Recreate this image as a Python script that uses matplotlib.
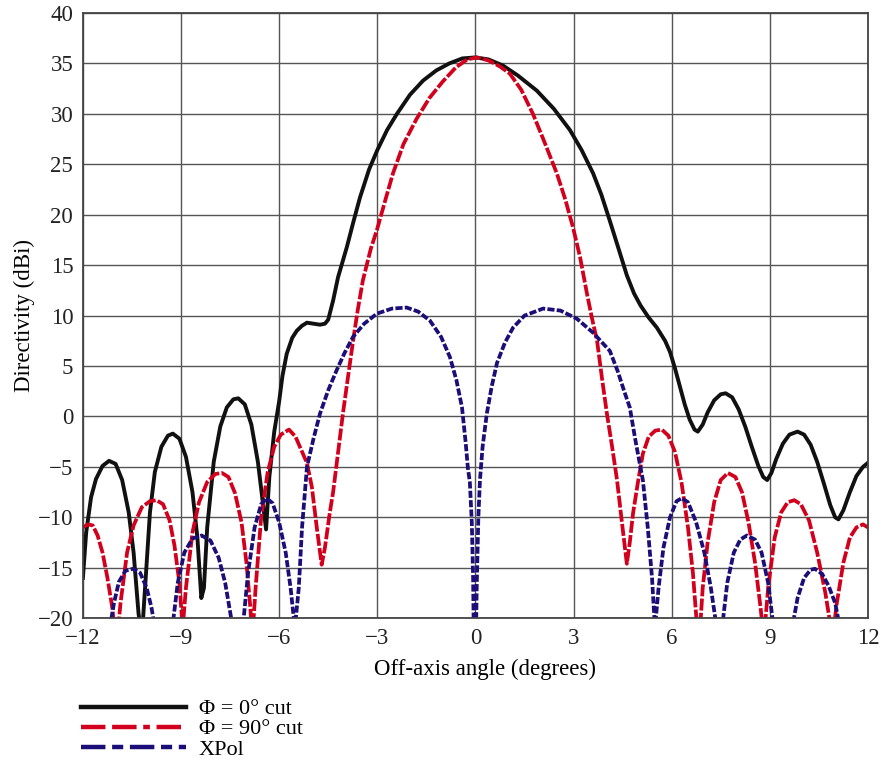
import matplotlib
matplotlib.use("Agg")

import numpy as np
import matplotlib.pyplot as plt

# (angle in degrees, directivity in dBi)
phi0_x = [-12.0, -11.9, -11.75, -11.6, -11.4, -11.2, -11.0, -10.8, -10.6, -10.45,
          -10.3, -10.2, -10.1, -9.95, -9.8, -9.6, -9.4, -9.25, -9.05, -8.85,
          -8.65, -8.5, -8.38, -8.3, -8.2, -8.0, -7.8, -7.6, -7.4, -7.25,
          -7.05, -6.85, -6.65, -6.5, -6.4, -6.3, -6.15, -6.0, -5.9, -5.77,
          -5.6, -5.46, -5.3, -5.15, -4.95, -4.75, -4.6, -4.5, -4.35, -4.2,
          -3.93, -3.73, -3.53, -3.25, -3.0, -2.7, -2.4, -2.0, -1.6, -1.2,
          -0.8, -0.4, 0.0, 0.4, 0.84, 1.3, 1.88, 2.4, 2.89, 3.25,
          3.6, 3.85, 4.11, 4.4, 4.63, 4.85, 5.05, 5.3, 5.55, 5.8,
          5.95, 6.1, 6.25, 6.4, 6.55, 6.7, 6.8, 6.95, 7.1, 7.3,
          7.5, 7.65, 7.85, 8.05, 8.25, 8.45, 8.65, 8.8, 8.92, 9.05,
          9.2, 9.4, 9.6, 9.85, 10.05, 10.25, 10.45, 10.65, 10.85, 11.0,
          11.1, 11.25, 11.45, 11.65, 11.85, 12.0]
phi0_y = [-16.0, -11.5, -8.0, -6.2, -4.9, -4.4, -4.7, -6.3, -9.5, -13.5,
          -19.5, -22.0, -17.0, -9.5, -5.5, -3.0, -1.9, -1.7, -2.2, -4.0,
          -7.5, -12.0, -18.0, -17.0, -11.0, -4.5, -1.0, 0.9, 1.7, 1.8,
          1.2, -0.8, -4.5, -8.5, -11.2, -6.0, -1.5, 1.5, 4.0, 6.2,
          7.8, 8.5, 9.0, 9.3, 9.2, 9.1, 9.2, 9.6, 11.5, 13.8,
          16.8, 19.3, 21.7, 24.5, 26.4, 28.4, 30.0, 31.9, 33.3, 34.3,
          35.0, 35.5, 35.6, 35.4, 34.8, 33.8, 32.3, 30.5, 28.4, 26.4,
          24.1, 22.0, 19.4, 16.4, 14.0, 12.2, 11.0, 9.8, 8.8, 7.5,
          6.4, 4.8, 3.0, 1.2, -0.3, -1.3, -1.5, -0.8, 0.4, 1.6,
          2.2, 2.3, 1.9, 0.7, -1.0, -3.0, -4.9, -6.0, -6.3, -5.6,
          -4.2, -2.7, -1.8, -1.5, -1.8, -2.8, -4.5, -6.6, -8.8, -10.0,
          -10.2, -9.3, -7.5, -5.9, -5.0, -4.6]

phi90_x = [-12.0, -11.85, -11.7, -11.55, -11.4, -11.25, -11.1, -10.98, -10.85, -10.65,
           -10.45, -10.2, -9.95, -9.75, -9.55, -9.35, -9.2, -9.05, -8.95, -8.85,
           -8.65, -8.45, -8.2, -7.95, -7.75, -7.55, -7.35, -7.15, -7.0, -6.88,
           -6.82, -6.72, -6.55, -6.35, -6.15, -5.95, -5.7, -5.5, -5.3, -5.15,
           -5.0, -4.85, -4.7, -4.6, -4.45, -4.35, -4.2, -4.05, -3.9, -3.74,
           -3.6, -3.44, -3.2, -3.01, -2.75, -2.52, -2.2, -1.8, -1.4, -1.0,
           -0.6, -0.25, 0.05, 0.4, 0.75, 1.05, 1.4, 1.76, 2.1, 2.49,
           2.75, 2.98, 3.2, 3.41, 3.56, 3.72, 3.87, 4.02, 4.18, 4.33,
           4.48, 4.63, 4.72, 4.82, 4.97, 5.12, 5.3, 5.5, 5.7, 5.9,
           6.1, 6.3, 6.5, 6.65, 6.78, 6.85, 6.95, 7.1, 7.3, 7.5,
           7.72, 7.95, 8.15, 8.35, 8.55, 8.72, 8.82, 8.95, 9.15, 9.35,
           9.55, 9.75, 9.95, 10.2, 10.45, 10.7, 10.92, 11.05, 11.25, 11.45,
           11.65, 11.85, 12.0]
phi90_y = [-11.0, -10.7, -10.8, -11.8, -13.5, -16.0, -19.0, -23.0, -18.5, -13.5,
           -10.8, -9.0, -8.4, -8.3, -8.7, -10.3, -12.8, -16.5, -21.0, -17.0,
           -11.5, -8.5, -6.5, -5.7, -5.6, -6.0, -7.6, -10.5, -14.5, -19.0,
           -22.0, -17.0, -10.0, -5.5, -3.0, -1.8, -1.3, -2.0, -3.5, -4.6,
           -7.0, -11.0, -14.7, -13.0, -9.5, -7.5, -3.6, 0.3, 3.8, 7.5,
           10.5, 13.5, 16.6, 18.5, 21.5, 24.1, 27.0, 29.5, 31.6, 33.2,
           34.6, 35.4, 35.6, 35.3, 34.7, 34.0, 32.4, 30.0, 27.3, 24.1,
           21.5, 18.8, 15.8, 12.2, 9.8, 7.5, 3.8, 0.3, -3.0, -6.3,
           -10.5, -14.6, -12.5, -9.6, -6.5, -3.7, -2.0, -1.4, -1.3, -1.9,
           -3.5, -6.5, -11.0, -15.5, -21.0, -22.0, -17.0, -12.5, -8.5, -6.3,
           -5.6, -6.0, -7.5, -10.5, -14.5, -19.0, -22.0, -17.0, -12.0, -9.5,
           -8.5, -8.3, -8.7, -10.3, -13.5, -17.5, -22.0, -18.5, -14.5, -12.0,
           -11.0, -10.7, -11.0]

xpol_x = [-11.18, -11.05, -10.9, -10.7, -10.47, -10.25, -10.05, -9.9, -9.8, -9.52,
          -9.25, -9.1, -8.9, -8.65, -8.37, -8.1, -7.85, -7.65, -7.44, -7.27,
          -7.1, -6.95, -6.75, -6.55, -6.38, -6.2, -6.0, -5.8, -5.65, -5.52,
          -5.4, -5.3, -5.15, -4.95, -4.75, -4.5, -4.24, -4.0, -3.74, -3.4,
          -3.01, -2.55, -2.1, -1.75, -1.39, -1.05, -0.78, -0.58, -0.41, -0.3,
          -0.23, -0.17, -0.11, -0.07, -0.02, 0.04, 0.09, 0.14, 0.22, 0.35,
          0.5, 0.66, 0.9, 1.15, 1.5, 2.07, 2.6, 3.1, 3.6, 4.11,
          4.35, 4.55, 4.72, 4.9, 5.12, 5.27, 5.4, 5.49, 5.6, 5.75,
          5.95, 6.15, 6.31, 6.5, 6.75, 7.0, 7.2, 7.38, 7.46, 7.54,
          7.7, 7.9, 8.1, 8.3, 8.55, 8.75, 8.95, 9.1, 9.4, 9.71,
          9.85, 10.05, 10.25, 10.38, 10.6, 10.8, 11.0, 11.15]
xpol_y = [-21.0, -18.5, -16.4, -15.3, -15.1, -15.5, -17.0, -19.0, -21.0, -26.0,
          -20.5, -16.5, -13.5, -12.1, -11.8, -12.3, -14.0, -16.5, -20.5, -25.0,
          -20.5, -15.5, -11.0, -8.7, -8.1, -8.6, -10.5, -13.5, -17.0, -21.0,
          -17.0, -11.0, -5.0, -2.2, 0.3, 2.6, 4.6, 6.3, 7.9, 9.2,
          10.2, 10.7, 10.8, 10.4, 9.5, 7.9, 5.9, 3.6, 0.9, -2.5,
          -5.1, -6.5, -10.5, -16.0, -30.0, -17.0, -10.0, -6.3, -3.0, 0.3,
          3.0, 5.3, 7.3, 8.8, 10.0, 10.7, 10.5, 9.7, 8.3, 6.5,
          4.5, 2.5, 0.9, -2.5, -6.3, -11.0, -16.0, -21.0, -17.0, -13.0,
          -10.0, -8.4, -8.1, -8.5, -10.5, -13.5, -17.0, -21.0, -25.0, -21.0,
          -16.5, -13.5, -12.2, -11.8, -12.2, -13.5, -16.5, -20.5, -26.0, -20.5,
          -18.0, -16.0, -15.2, -15.1, -15.6, -16.8, -18.5, -21.0]

x_ticks = [-12, -9, -6, -3, 0, 3, 6, 9, 12]
y_ticks = [-20, -15, -10, -5, 0, 5, 10, 15, 20, 25, 30, 35, 40]
series_labels = ["\u03a6 = 0\u00b0 cut", "\u03a6 = 90\u00b0 cut", "XPol"]

plt.rcParams["font.family"] = ["Liberation Serif", "DejaVu Serif"]

fig = plt.figure(figsize=(8.82, 7.67), dpi=100)
ax = fig.add_axes([0.094, 0.194, 0.890, 0.789])

ax.grid(True, color="#555555", linewidth=1.0)
ax.set_axisbelow(True)

ax.plot(phi0_x, phi0_y, color="#111111", lw=2.8, label=series_labels[0])
ax.plot(phi90_x, phi90_y, color="#d2001c", lw=2.7,
        linestyle=(0, (3.2, 0.6)), label=series_labels[1])
ax.plot(xpol_x, xpol_y, color="#1c0e78", lw=2.7,
        linestyle=(0, (1.9, 0.6)), label=series_labels[2])

ax.set_xlim(-12, 12)
ax.set_ylim(-20, 40)
ax.set_xticks(x_ticks)
ax.set_yticks(y_ticks)
ax.tick_params(length=0, labelsize=16.5, pad=7, colors="#222222")
for s in ax.spines.values():
    s.set_color("#444444")
    s.set_linewidth(1.3)

ax.set_xlabel("Off-axis angle (degrees)", fontsize=16.5, labelpad=7, x=0.512)
ax.set_ylabel("Directivity (dBi)", fontsize=16.5, labelpad=2)

# legend below the plot, long sample lines
h0 = plt.Line2D([], [], color="#111111", lw=3.2)
h90 = plt.Line2D([], [], color="#d2001c", lw=3.2, linestyle=(0, (5.5, 1.5, 5.5, 1.5, 1.5, 1.5)))
hx = plt.Line2D([], [], color="#1c0e78", lw=3.2, linestyle=(0, (5.5, 1.5, 2.5, 1.5)))
fig.legend([h0, h90, hx], series_labels, loc="upper left",
           bbox_to_anchor=(0.092, 0.089), frameon=False, fontsize=16,
           handlelength=4.7, handletextpad=0.6, labelspacing=-0.02,
           borderaxespad=0, borderpad=0)

fig.savefig("out.png", dpi=100)
plt.close(fig)
